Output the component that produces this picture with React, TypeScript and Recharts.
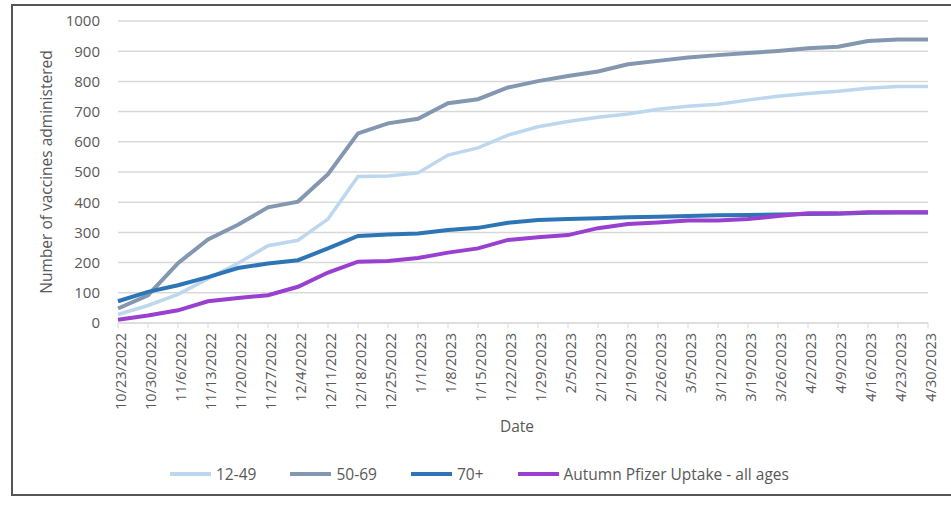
import { LineChart, Line, XAxis, YAxis, CartesianGrid, Legend } from "recharts";

const dates = [
  "10/23/2022", "10/30/2022", "11/6/2022", "11/13/2022", "11/20/2022", "11/27/2022", "12/4/2022",
  "12/11/2022", "12/18/2022", "12/25/2022", "1/1/2023", "1/8/2023", "1/15/2023", "1/22/2023",
  "1/29/2023", "2/5/2023", "2/12/2023", "2/19/2023", "2/26/2023", "3/5/2023", "3/12/2023",
  "3/19/2023", "3/26/2023", "4/2/2023", "4/9/2023", "4/16/2023", "4/23/2023", "4/30/2023",
];

const age1249 = [28, 58, 95, 147, 198, 256, 274, 344, 485, 487, 497, 556, 580, 622, 650, 667, 681, 692, 708, 718, 724, 738, 751, 760, 767, 777, 783, 783];
const age5069 = [48, 92, 198, 277, 325, 383, 402, 493, 628, 661, 676, 728, 741, 780, 801, 818, 833, 857, 868, 879, 887, 894, 901, 910, 915, 934, 939, 939];
const age70 = [72, 103, 125, 152, 182, 197, 208, 247, 288, 293, 296, 308, 315, 332, 341, 344, 347, 350, 352, 354, 357, 358, 359, 361, 362, 365, 366, 366];
const pfizerAll = [11, 25, 42, 72, 83, 92, 120, 167, 203, 205, 215, 233, 247, 275, 284, 291, 314, 328, 333, 339, 339, 344, 354, 363, 363, 367, 367, 367];

const yTicks = [0, 100, 200, 300, 400, 500, 600, 700, 800, 900, 1000];

const data = dates.map((date, i) => ({
  date,
  a: age1249[i],
  b: age5069[i],
  c: age70[i],
  d: pfizerAll[i],
}));

const FONT = "'Open Sans', sans-serif";
const TEXT = "#595959";

function DateTick(props: any) {
  const { x, y, payload } = props;
  return (
    <g transform={`translate(${x},${y})`}>
      <text x={0} y={0} dy={8} textAnchor="end" transform="rotate(-90)" fill={TEXT} fontSize={14.5} fontFamily={FONT}>
        {payload.value}
      </text>
    </g>
  );
}

function LegendBox(props: any) {
  const { payload } = props;
  return (
    <div style={{ display: "flex", height: 24, alignItems: "center", paddingLeft: 157, fontFamily: FONT, fontSize: 15.5, color: TEXT }}>
      {payload.map((entry: any) => (
        <div key={entry.value} style={{ display: "flex", alignItems: "center", marginRight: 34 }}>
          <span style={{ display: "inline-block", width: 41, height: 4, background: entry.color, marginRight: 5 }} />
          <span>{entry.value}</span>
        </div>
      ))}
    </div>
  );
}

export default function App() {
  return (
    <div
      style={{
        position: "absolute",
        left: 11,
        top: 4,
        width: 960,
        height: 488,
        borderLeft: "2px solid #555",
        borderTop: "2px solid #555",
        borderBottom: "2px solid #555",
        background: "#fff",
      }}
    >
      <LineChart width={940} height={488} data={data} margin={{ top: 15, right: 25, left: 0, bottom: 27 }}>
        <CartesianGrid vertical={false} stroke="#d9d9d9" strokeWidth={1.5} />
        <XAxis
          dataKey="date"
          interval={0}
          height={120}
          tickSize={5}
          tickMargin={5}
          stroke="#d9d9d9"
          tick={<DateTick />}
          label={{ value: "Date", position: "insideBottom", offset: 11, dx: -6, fill: TEXT, fontSize: 15.5, fontFamily: FONT }}
        />
        <YAxis
          domain={[0, 1000]}
          ticks={yTicks}
          width={105}
          axisLine={false}
          tickLine={false}
          tickMargin={12}
          tick={{ fill: TEXT, fontSize: 15, fontFamily: FONT }}
          label={{
            value: "Number of vaccines administered",
            angle: -90,
            position: "insideLeft",
            offset: 33,
            style: { textAnchor: "middle" },
            fill: TEXT,
            fontSize: 15.5,
            fontFamily: FONT,
          }}
        />
        <Legend content={<LegendBox />} wrapperStyle={{ bottom: 8, left: 0 }} />
        <Line dataKey="a" name="12-49" stroke="#bdd7ee" strokeWidth={3.5} dot={false} isAnimationActive={false} />
        <Line dataKey="b" name="50-69" stroke="#8497b0" strokeWidth={4} dot={false} isAnimationActive={false} />
        <Line dataKey="c" name="70+" stroke="#2e75b6" strokeWidth={4} dot={false} isAnimationActive={false} />
        <Line dataKey="d" name="Autumn Pfizer Uptake - all ages" stroke="#9a40d0" strokeWidth={4} dot={false} isAnimationActive={false} />
      </LineChart>
    </div>
  );
}
